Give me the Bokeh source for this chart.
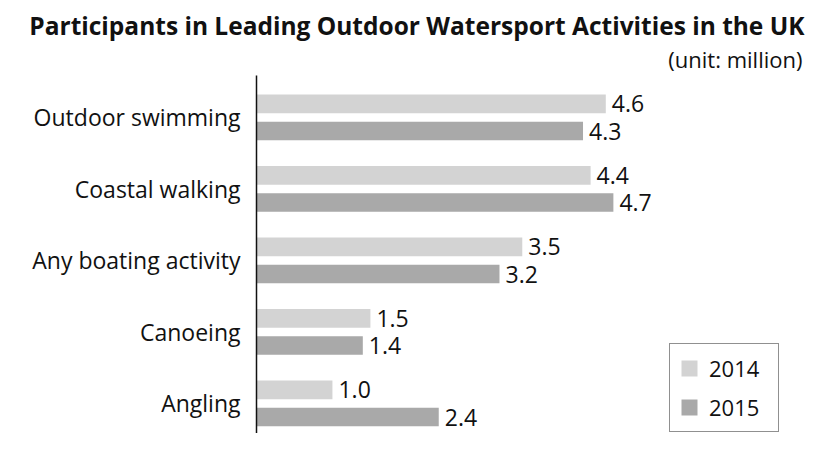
from bokeh.plotting import figure
from bokeh.models import Range1d, FixedTicker, ColumnDataSource, Legend, LegendItem, Title
from bokeh.transform import dodge
from bokeh.embed import file_html
from bokeh.resources import INLINE
from bokeh.core.properties import value

categories = ["Outdoor swimming", "Coastal walking", "Any boating activity", "Canoeing", "Angling"]
values_2014 = [4.6, 4.4, 3.5, 1.5, 1.0]
values_2015 = [4.3, 4.7, 3.2, 1.4, 2.4]
years = ["2014", "2015"]
colors = ["#d3d3d3", "#a9a9a9"]

FONT = "Open Sans"

pos = list(range(len(categories)))
src = ColumnDataSource(dict(
    pos=pos, v14=values_2014, v15=values_2015,
    l14=[f"{v:.1f}" for v in values_2014],
    l15=[f"{v:.1f}" for v in values_2015],
))

p = figure(width=805, height=433, output_backend="svg", toolbar_location=None,
           x_range=Range1d(0, 7.23), y_range=Range1d(4.42, -0.587),
           x_axis_location=None, title_location=None,
           min_border_left=256, min_border_right=0, min_border_top=75, min_border_bottom=0)

p.outline_line_color = None
p.grid.visible = False
p.background_fill_color = "white"

yax = p.yaxis[0]
yax.ticker = FixedTicker(ticks=pos)
yax.major_label_overrides = {i: c for i, c in zip(pos, categories)}
yax.major_tick_line_color = None
yax.minor_tick_line_color = None
yax.axis_line_color = "#111111"
yax.axis_line_width = 1.5
yax.major_label_standoff = 10
yax.major_label_text_font = FONT
yax.major_label_text_font_size = "23px"
yax.major_label_text_color = "#111111"

off = 0.19
bh = 0.26
r14 = p.hbar(y=dodge("pos", -off), right="v14", left=0, height=bh, source=src,
             fill_color=colors[0], line_color=None)
r15 = p.hbar(y=dodge("pos", off), right="v15", left=0, height=bh, source=src,
             fill_color=colors[1], line_color=None)

for col, lab, d in (("v14", "l14", -off), ("v15", "l15", off)):
    p.text(x=col, y=dodge("pos", d), text=lab, source=src, x_offset=6,
           text_baseline="middle", text_align="left",
           text_font=value(FONT), text_font_size="23px", text_color="#111111")

legend = Legend(items=[LegendItem(label=years[0], renderers=[r14]),
                       LegendItem(label=years[1], renderers=[r15])],
                location=(413, 1), orientation="vertical",
                glyph_width=20, glyph_height=20, label_standoff=10,
                padding=9, spacing=9, margin=0, label_width=60,
                label_text_font=FONT, label_text_font_size="22px",
                label_text_color="#111111",
                border_line_color="#222222", border_line_width=1.5,
                background_fill_alpha=1.0)
p.add_layout(legend, "center")

unit = Title(text="(unit: million)", align="right", offset=3,
             text_font=FONT, text_font_size="22px", text_font_style="normal",
             text_color="#111111", standoff=4)
p.add_layout(unit, "above")
main = Title(text="Participants in Leading Outdoor Watersport Activities in the UK",
             align="right", offset=1,
             text_font=FONT, text_font_size="24.5px", text_font_style="bold",
             text_color="#111111", standoff=-4)
p.add_layout(main, "above")

open("out.html", "w").write(file_html(p, INLINE))
